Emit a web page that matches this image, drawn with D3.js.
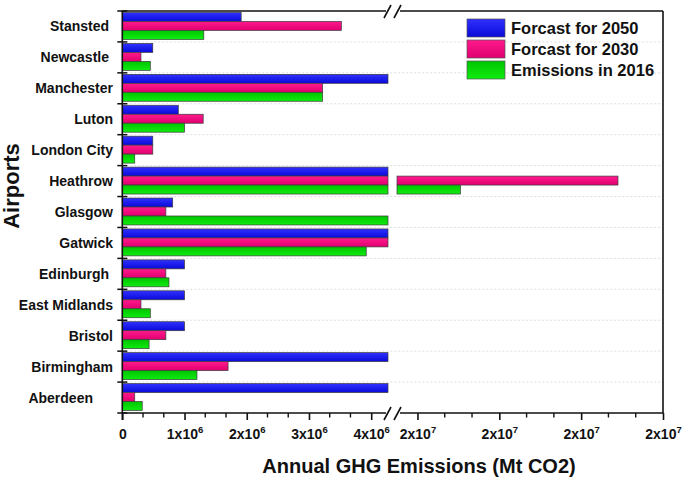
<!DOCTYPE html>
<html>
<head>
<meta charset="utf-8">
<script src="https://cdn.jsdelivr.net/npm/d3@7"></script>
<style>
  body { margin: 0; background: #fff; }
  svg { display: block; font-family: "Liberation Sans", Arial, sans-serif; }
</style>
</head>
<body>
<div id="chart"></div>
<script>
// Airports, top to bottom as in the figure
var airports = ["Stansted", "Newcastle", "Manchester", "Luton", "London City", "Heathrow",
  "Glasgow", "Gatwick", "Edinburgh", "East Midlands", "Bristol", "Birmingham", "Aberdeen"];

var seriesNames = ["Forcast for 2050", "Forcast for 2030", "Emissions in 2016"];

// values (bars running into the axis break are estimates)
var forecast2050 = [1.91e6, 0.49e6, 6.5e6, 0.90e6, 0.49e6, 1.2e7, 0.81e6, 8.0e6, 1.0e6, 1.0e6, 1.0e6, 5.5e6, 5.0e6];
var forecast2030 = [3.52e6, 0.30e6, 3.22e6, 1.30e6, 0.49e6, 2.29e7, 0.70e6, 7.0e6, 0.70e6, 0.30e6, 0.70e6, 1.70e6, 0.20e6];
var emissions2016 = [1.31e6, 0.45e6, 3.22e6, 1.00e6, 0.20e6, 1.905e7, 5.0e6, 3.92e6, 0.75e6, 0.45e6, 0.43e6, 1.20e6, 0.32e6];

// broken x axis
var leftTicks = [0, 1e6, 2e6, 3e6, 4e6];
var rightTicks = [1.8e7, 2.0e7, 2.2e7, 2.4e7];
var leftMax = 4.27e6, rightMin = 1.75e7, rightMax = 2.4e7;

var width = 685, height = 479;
var plotTop = 11, plotBottom = 413, axisX = 122.3, breakL = 388, breakR = 397, plotRight = 663;

var svg = d3.select("#chart").append("svg")
  .attr("width", width).attr("height", height);

var defs = svg.append("defs");
var colors = [["#3030ff", "#0a0ad8"], ["#ff1a8c", "#e00070"], ["#00c400", "#10ec10"]];
colors.forEach(function(c, i) {
  var g = defs.append("linearGradient").attr("id", "grad" + i)
    .attr("x1", 0).attr("y1", 0).attr("x2", 0).attr("y2", 1);
  g.append("stop").attr("offset", "0%").attr("stop-color", c[0]);
  g.append("stop").attr("offset", "100%").attr("stop-color", c[1]);
});

var xL = d3.scaleLinear().domain([0, leftMax]).range([axisX, breakL]);
var xR = d3.scaleLinear().domain([rightMin, rightMax]).range([breakR, plotRight]);
var y = d3.scaleBand().domain(airports).range([plotTop, plotBottom]);
var ySub = d3.scaleBand().domain(seriesNames).range([1.5, y.bandwidth() - 2.5]);

// dashed gridlines at category boundaries
svg.append("g").selectAll("line")
  .data(airports.slice(1))
  .enter().append("line")
  .attr("x1", axisX).attr("x2", plotRight)
  .attr("y1", function(d) { return y(d); })
  .attr("y2", function(d) { return y(d); })
  .attr("stroke", "#d4d4d4").attr("stroke-width", 0.8)
  .attr("stroke-dasharray", "2,2");

// bars
var rows = airports.map(function(a, i) {
  return { name: a, vals: [forecast2050[i], forecast2030[i], emissions2016[i]] };
});

var groups = svg.append("g").selectAll("g")
  .data(rows).enter().append("g")
  .attr("transform", function(d) { return "translate(0," + y(d.name) + ")"; });

groups.each(function(d) {
  var g = d3.select(this);
  d.vals.forEach(function(v, i) {
    var yy = ySub(seriesNames[i]);
    g.append("rect")
      .attr("x", xL(0))
      .attr("y", yy)
      .attr("width", xL(Math.min(v, leftMax)) - xL(0))
      .attr("height", ySub.bandwidth())
      .attr("fill", "url(#grad" + i + ")")
      .attr("stroke", "#3c3c3c").attr("stroke-width", 0.7);
    if (v > rightMin) {
      g.append("rect")
        .attr("x", xR(rightMin))
        .attr("y", yy)
        .attr("width", xR(Math.min(v, rightMax)) - xR(rightMin))
        .attr("height", ySub.bandwidth())
        .attr("fill", "url(#grad" + i + ")")
        .attr("stroke", "#3c3c3c").attr("stroke-width", 0.7);
    }
  });
});

// frame lines
var frame = svg.append("g").attr("stroke", "#111").attr("stroke-width", 1.6).attr("fill", "none");
frame.append("line").attr("x1", axisX).attr("x2", axisX).attr("y1", plotTop).attr("y2", plotBottom + 7);
frame.append("line").attr("x1", plotRight).attr("x2", plotRight).attr("y1", plotTop).attr("y2", plotBottom);
[plotTop, plotBottom].forEach(function(yy) {
  frame.append("line").attr("x1", axisX).attr("x2", breakL - 2).attr("y1", yy).attr("y2", yy);
  frame.append("line").attr("x1", breakR + 3).attr("x2", plotRight).attr("y1", yy).attr("y2", yy);
  // break marks
  frame.append("line").attr("x1", breakL - 4).attr("x2", breakL + 3).attr("y1", yy + 7).attr("y2", yy - 6);
  frame.append("line").attr("x1", breakR - 3).attr("x2", breakR + 4).attr("y1", yy + 7).attr("y2", yy - 6);
});

// y ticks at category boundaries
svg.append("g").selectAll("line")
  .data(y.domain().map(function(d) { return y(d); }).concat([plotBottom]))
  .enter().append("line")
  .attr("x1", axisX - 5).attr("x2", axisX + 5)
  .attr("y1", function(d) { return d; }).attr("y2", function(d) { return d; })
  .attr("stroke", "#111").attr("stroke-width", 1.5);

// category labels
var labelShift = { "Stansted": -4, "Newcastle": -4, "Edinburgh": -4, "Aberdeen": -20 };
svg.append("g").selectAll("text")
  .data(airports).enter().append("text")
  .attr("x", function(d) { return 113 + (labelShift[d] || 0); })
  .attr("y", function(d) { return y(d) + y.bandwidth() / 2 + 5; })
  .attr("text-anchor", "end")
  .attr("font-size", 14).attr("font-weight", "bold").attr("fill", "#111")
  .text(function(d) { return d; });

// x axes (major ticks via d3 axis, minor ticks at thirds)
function sciLabel(sel) {
  sel.each(function(v) {
    var t = d3.select(this);
    t.text(null);
    if (v === 0) { t.append("tspan").text("0"); return; }
    var e = Math.floor(Math.log10(v));
    var m = Math.round(v / Math.pow(10, e));
    t.append("tspan").text(m + "x10");
    t.append("tspan").attr("dy", -6).attr("font-size", 9.5).text(e);
  });
}

function drawAxis(scale, ticks, minor) {
  var g = svg.append("g").attr("transform", "translate(0," + plotBottom + ")")
    .call(d3.axisBottom(scale).tickValues(ticks).tickSize(7).tickPadding(9));
  g.attr("font-size", 14).attr("font-family", null);
  g.select(".domain").remove();
  g.selectAll(".tick line").attr("stroke", "#111").attr("stroke-width", 1.6);
  g.selectAll(".tick text")
    .attr("font-size", 14).attr("font-weight", "bold").attr("fill", "#111")
    .call(sciLabel);
  svg.append("g").selectAll("line").data(minor).enter().append("line")
    .attr("x1", function(d) { return scale(d); }).attr("x2", function(d) { return scale(d); })
    .attr("y1", plotBottom).attr("y2", plotBottom + 4.5)
    .attr("stroke", "#111").attr("stroke-width", 1.4);
}

var leftMinor = d3.range(1, 13).filter(function(k) { return k % 3 !== 0; }).map(function(k) { return k * 1e6 / 3; });
var rightMinor = d3.range(1, 9).filter(function(k) { return k % 3 !== 0; }).map(function(k) { return 1.8e7 + k * 2e6 / 3; });
drawAxis(xL, leftTicks, leftMinor);
drawAxis(xR, rightTicks, rightMinor);

// axis titles
svg.append("text")
  .attr("x", 419).attr("y", 473)
  .attr("text-anchor", "middle")
  .attr("font-size", 20).attr("font-weight", "bold").attr("fill", "#111")
  .text("Annual GHG Emissions (Mt CO2)");

svg.append("text")
  .attr("transform", "translate(19,186) rotate(-90)")
  .attr("text-anchor", "middle")
  .attr("font-size", 22).attr("font-weight", "bold").attr("fill", "#111")
  .text("Airports");

// legend
var legend = svg.append("g").attr("transform", "translate(467,19)");
seriesNames.forEach(function(name, i) {
  legend.append("rect")
    .attr("x", 0).attr("y", i * 21)
    .attr("width", 38).attr("height", 18)
    .attr("fill", "url(#grad" + i + ")")
    .attr("stroke", "#555").attr("stroke-width", 0.7);
  legend.append("text")
    .attr("x", 44).attr("y", i * 21 + 15)
    .attr("font-size", 16.5).attr("font-weight", "bold").attr("fill", "#111")
    .text(name);
});
</script>
</body>
</html>
